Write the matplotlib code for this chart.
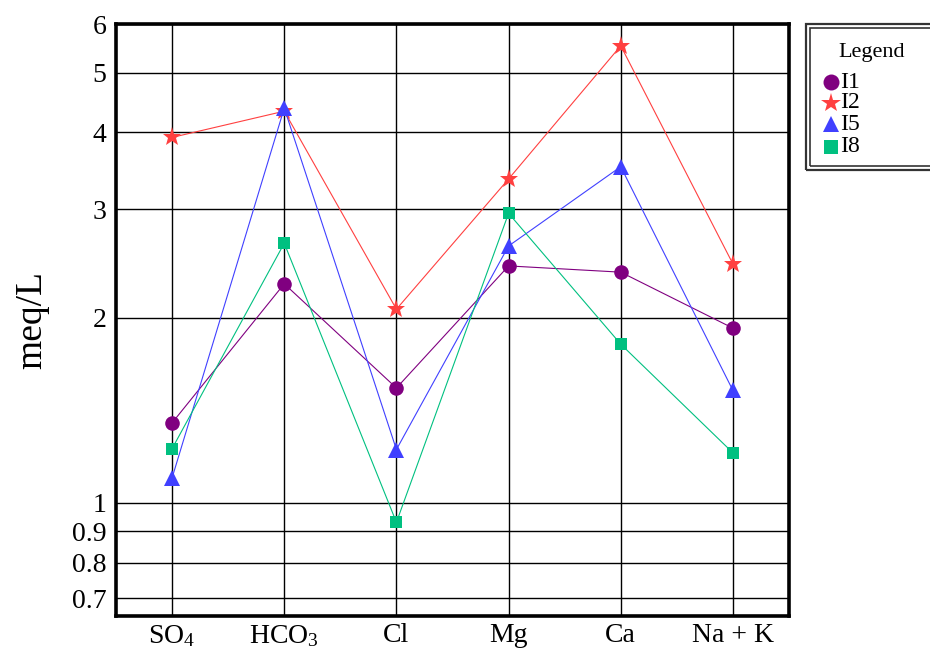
import numpy as np
import matplotlib
matplotlib.use('Agg')
import matplotlib.pyplot as plt
from matplotlib.patches import Rectangle
from matplotlib.lines import Line2D
from matplotlib.ticker import FixedLocator, NullLocator

plt.rc('font', family='Liberation Serif')
plt.rc('mathtext', fontset='custom', rm='Liberation Serif', it='Liberation Serif')

# ion concentrations (meq/L) per sample
ions = [r'SO$_4$', r'HCO$_3$', 'Cl', 'Mg', 'Ca', 'Na + K']
I1 = [1.349, 2.27, 1.537, 2.427, 2.371, 1.923]
I2 = [3.925, 4.33, 2.064, 3.36, 5.53, 2.445]
I5 = [1.098, 4.38, 1.221, 2.615, 3.518, 1.523]
I8 = [1.225, 2.642, 0.930, 2.955, 1.811, 1.206]

yticks = [0.7, 0.8, 0.9, 1, 2, 3, 4, 5, 6]

series = [
    ('I1', I1, '#800080', 'o', 10.5),
    ('I2', I2, '#ff4040', '*', 14),
    ('I5', I5, '#4040ff', '^', 11),
    ('I8', I8, '#00c080', 's', 9),
]

W, H = 930, 654
fig = plt.figure(figsize=(W/100, H/100), dpi=100)
ax = fig.add_axes([116/W, 1 - 616/H, (789 - 116)/W, (616 - 24)/H])

x = np.arange(len(ions))
for name, vals, col, mk, ms in series:
    ax.plot(x, vals, color=col, lw=0.8, marker=mk, markersize=ms,
            markeredgewidth=0, label=name, zorder=3)

ax.set_yscale('log')
ax.set_ylim(0.655, 6)
ax.set_xlim(-0.5, 5.5)
ax.yaxis.set_major_locator(FixedLocator(yticks))
ax.yaxis.set_minor_locator(NullLocator())
ax.set_yticklabels([('%g' % v) for v in yticks])
ax.set_xticks(x)
ax.set_xticklabels(ions)
ax.tick_params(axis='both', length=0, labelsize=20)
ax.tick_params(axis='y', pad=7)
ax.tick_params(axis='x', pad=5)
ax.grid(True, which='major', color='black', lw=1.0, zorder=1)
for s in ax.spines.values():
    s.set_linewidth(2.6)
ax.set_ylabel('meq/L', fontsize=27, labelpad=16)

# legend box with double border, running off the right edge
for (l, b, w, h, lw) in [(806, 24, 140, 146, 1.6), (810, 28, 140, 138, 1.2)]:
    fig.patches.append(Rectangle((l/W, 1 - (b + h)/H), w/W, h/H,
                                 transform=fig.transFigure, fill=False,
                                 edgecolor='#333333', lw=lw))

fig.text(872/W, 1 - 52/H, 'Legend', fontsize=16, ha='center', va='center')
for i, (name, vals, col, mk, ms) in enumerate(series):
    ypx = [82, 103, 124, 147][i]
    fig.add_artist(Line2D([831/W], [1 - ypx/H], transform=fig.transFigure,
                          ls='none', marker=mk, color=col, markersize=ms + 1,
                          markeredgewidth=0))
    fig.text(840/W, 1 - ypx/H, name, fontsize=17, ha='left', va='center')

fig.savefig('out.png', dpi=100)
